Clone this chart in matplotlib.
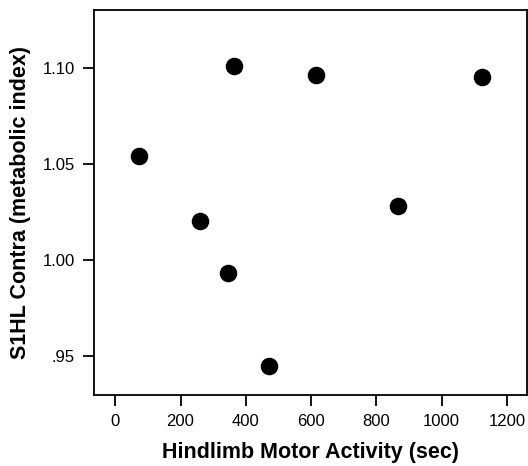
import matplotlib
matplotlib.use('Agg')
import matplotlib.pyplot as plt
from matplotlib.ticker import FixedLocator, FixedFormatter

# hindlimb motor activity (sec) vs S1HL contra metabolic index
activity = [74, 261, 345, 364, 470, 615, 867, 1122]
metabolic = [1.054, 1.020, 0.993, 1.101, 0.945, 1.096, 1.028, 1.095]

xticks = [0, 200, 400, 600, 800, 1000, 1200]
yticks = [0.95, 1.00, 1.05, 1.10]
ytick_labels = ['.95', '1.00', '1.05', '1.10']

plt.rcParams['font.family'] = ['Liberation Sans', 'DejaVu Sans']

fig = plt.figure(figsize=(5.28, 4.66), dpi=100)
ax = fig.add_axes([0.178, 0.153, 0.82, 0.826])

ax.scatter(activity, metabolic, s=135, color='black', zorder=3)

ax.set_xlim(-65, 1261)
ax.set_ylim(0.930, 1.130)
ax.xaxis.set_major_locator(FixedLocator(xticks))
ax.yaxis.set_major_locator(FixedLocator(yticks))
ax.yaxis.set_major_formatter(FixedFormatter(ytick_labels))

ax.tick_params(direction='out', length=8, width=1.3, labelsize=12, pad=6, colors='black')
for sp in ax.spines.values():
    sp.set_linewidth(1.3)

ax.set_xlabel('Hindlimb Motor Activity (sec)', fontsize=15.5, fontweight='bold', labelpad=9)
ax.set_ylabel('S1HL Contra (metabolic index)', fontsize=15.5, fontweight='bold', labelpad=8)

fig.savefig('out.png', dpi=100)
